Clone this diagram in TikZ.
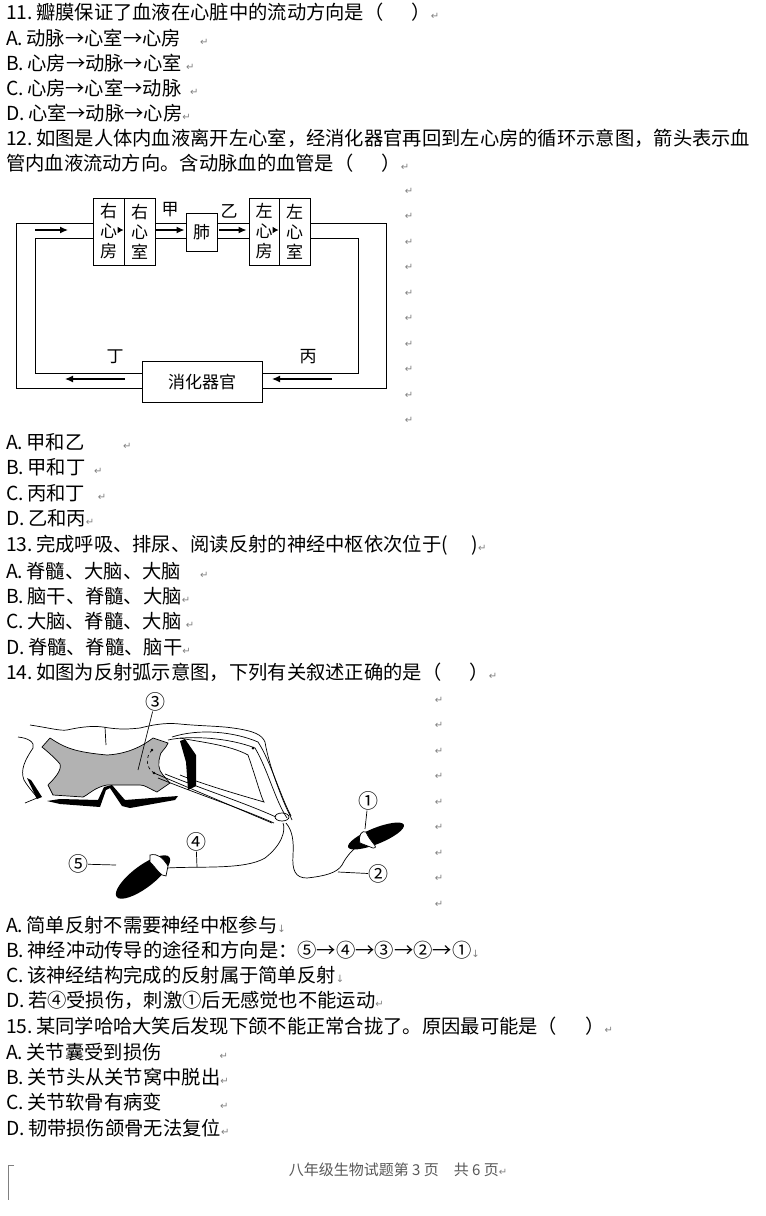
\documentclass[tikz,border=0pt]{standalone}
\usepackage{fontspec}
\setmainfont{Noto Sans CJK SC}
\newfontfamily\djv{DejaVu Sans}
\usetikzlibrary{arrows.meta}
\newcommand{\rt}{{\djv\color{gray}\fontsize{10}{10}\selectfont ↵}}
\newcommand{\rd}{{\djv\color{gray}\fontsize{10}{10}\selectfont ↓}}
\newcommand{\qline}[3]{\node[txt] (#1) at (6,#2) {#3};}
\begin{document}
\begin{tikzpicture}[x=1pt,y=-1pt,
  txt/.style={anchor=west,inner sep=0pt,font=\fontsize{19.3}{20}\selectfont},
  lab/.style={inner sep=0pt,font=\fontsize{17}{18}\selectfont},
  bx/.style={draw,line width=0.9pt},
  ln/.style={line width=0.9pt},
  ar/.style={line width=1.3pt,-{Latex[length=8pt,width=7pt]}},
  blk/.style={fill=black},
  nerve/.style={line width=0.7pt}]
\useasboundingbox (0,0) rectangle (766,1216);
\fill[white] (0,0) rectangle (766,1216);
% ---------- text ----------
\qline{q11}{12}{11.\,瓣膜保证了血液在心脏中的流动方向是（\quad\ \ ）\rt}
\qline{a11}{38}{A.\,动脉→心室→心房\quad\rt}
\qline{b11}{63}{B.\,心房→动脉→心室\ \rt}
\qline{c11}{88}{C.\,心房→心室→动脉\ \ \rt}
\qline{d11}{113}{D.\,心室→动脉→心房\rt}
\qline{q12}{138}{12.\,如图是人体内血液离开左心室，经消化器官再回到左心房的循环示意图，箭头表示血}
\qline{q12b}{163}{管内血液流动方向。含动脉血的血管是（\quad\ \ ）\rt}
\qline{a12}{442}{A.\,甲和乙\qquad\rt}
\qline{b12}{467}{B.\,甲和丁\ \ \rt}
\qline{c12}{493}{C.\,丙和丁\ \ \ \rt}
\qline{d12}{518}{D.\,乙和丙\rt}
\qline{q13}{545}{13.\,完成呼吸、排尿、阅读反射的神经中枢依次位于(\quad\ )\rt}
\qline{a13}{571}{A.\,脊髓、大脑、大脑\quad\rt}
\qline{b13}{596}{B.\,脑干、脊髓、大脑\rt}
\qline{c13}{621}{C.\,大脑、脊髓、大脑\ \rt}
\qline{d13}{647}{D.\,脊髓、脊髓、脑干\rt}
\qline{q14}{672}{14.\,如图为反射弧示意图，下列有关叙述正确的是（\quad\ \ ）\rt}
\qline{a14}{925}{A.\,简单反射不需要神经中枢参与\rd}
\qline{b14}{950}{B.\,神经冲动传导的途径和方向是：⑤→④→③→②→①\rd}
\qline{c14}{975}{C.\,该神经结构完成的反射属于简单反射\rd}
\qline{d14}{1000}{D.\,若④受损伤，刺激①后无感觉也不能运动\rt}
\qline{q15}{1026}{15.\,某同学哈哈大笑后发现下颌不能正常合拢了。原因最可能是（\quad\ \ ）\rt}
\qline{a15}{1052}{A.\,关节囊受到损伤\qquad\quad\rt}
\qline{b15}{1077}{B.\,关节头从关节窝中脱出\rt}
\qline{c15}{1102}{C.\,关节软骨有病变\qquad\quad\rt}
\qline{d15}{1128}{D.\,韧带损伤颌骨无法复位\rt}
\node[lab,text=gray!70!black,font=\fontsize{15}{16}\selectfont] (foot) at (398,1170) {八年级生物试题第 3 页\quad 共 6 页\rt};
\draw[ln,gray] (14,1165) -- (8,1165) -- (8,1200);
% return marks in diagrams
\foreach \i in {0,...,9}{\node[inner sep=0pt] (rh\i) at (409,{191+25.5*\i}) {\rt};}
\foreach \i in {0,...,8}{\node[inner sep=0pt] (rr\i) at (439,{700+25.5*\i}) {\rt};}
% ---------- heart diagram ----------
\tikzset{hb/.style={bx,minimum width=31pt,minimum height=67pt,inner sep=0pt,align=center,font=\fontsize{17}{20}\selectfont}}
\node[hb] (ra) at (108.5,231.5) {右\\心\\房};
\node[hb] (rv) at (139.5,231.5) {右\\心\\室};
\node[bx,minimum width=31pt,minimum height=38pt,inner sep=0pt,lab] (lung) at (201.5,232) {肺};
\node[hb,minimum width=30pt] (la) at (264,231.5) {左\\心\\房};
\node[hb] (lv) at (294.5,231.5) {左\\心\\室};
\node[bx,minimum width=120pt,minimum height=41pt,inner sep=0pt,lab] (dig) at (202,381.5) {消化器官};
\coordinate (o1) at (16,223); \coordinate (o2) at (386,223);
\coordinate (o3) at (386,388); \coordinate (o4) at (16,388);
\coordinate (i1) at (35,238); \coordinate (i2) at (358,238);
\coordinate (i3) at (358,373); \coordinate (i4) at (35,373);
\draw[ln] (ra.west|-o1) -- (o1) -- (o4) -- (dig.west|-o4);
\draw[ln] (ra.west|-i1) -- (i1) -- (i4) -- (dig.west|-i4);
\draw[ln] (lv.east|-o2) -- (o2) -- (o3) -- (dig.east|-o3);
\draw[ln] (lv.east|-i2) -- (i2) -- (i3) -- (dig.east|-i3);
\draw[ln] (rv.east|-o1) -- (lung.west|-o1) (rv.east|-i1) -- (lung.west|-i1);
\draw[ln] (lung.east|-o1) -- (la.west|-o1) (lung.east|-i1) -- (la.west|-i1);
\coordinate (aL1) at (35,230); \coordinate (aL2) at (68,230);
\draw[ar] (aL1) -- (aL2);
\draw[ar] (rv.east|-aL1) -- ([xshift=-1pt]lung.west|-aL1);
\draw[ar] ([xshift=2pt]lung.east|-aL1) -- ([xshift=-2pt]la.west|-aL1);
\coordinate (h1) at (118,230); \coordinate (h2) at (273,230);
\draw[ar,-{Latex[length=6pt,width=7pt]}] (h1) -- (rv.west|-h1);
\draw[ar,-{Latex[length=6pt,width=7pt]}] (h2) -- (lv.west|-h2);
\coordinate (d1) at (125,379); \coordinate (d2) at (65,379);
\coordinate (d3) at (332,379); \coordinate (d4) at (272,379);
\draw[ar] (d1) -- (d2); \draw[ar] (d3) -- (d4);
\node[lab] (jia) at (170,210) {甲};
\node[lab] (yi) at (229,211) {乙};
\node[lab] (ding) at (115,357) {丁};
\node[lab] (bing) at (308,357) {丙};
% ---------- reflex arc ----------
\draw[nerve] (30,725) .. controls (50,728) and (60,731) .. (67,730) .. controls (85,726) and (95,726) .. (103,727) .. controls (120,730) and (130,729) .. (140,728) .. controls (160,723) and (170,723) .. (180,724) .. controls (200,726) and (220,726) .. (233,728) .. controls (255,731) and (262,735) .. (265,742) .. controls (268,760) and (275,780) .. (283,800) .. controls (287,810) and (290,815) .. (292,820);
\draw[nerve] (105,727) -- (106,745);
\draw[nerve] (18,737) .. controls (28,738) and (35,742) .. (33,748) .. controls (25,760) and (20,770) .. (24,780) .. controls (30,790) and (36,795) .. (37,798) -- (25,803);
\draw[nerve,fill=gray!60] (42,747) -- (50,738) .. controls (65,748) and (75,752) .. (107,755) .. controls (125,754) and (140,748) .. (153,738) -- (168,743) .. controls (165,750) and (160,752) .. (160,756) .. controls (158,762) and (158,770) .. (163,775) -- (170,783) -- (157,792) .. controls (148,788) and (145,785) .. (140,785) -- (107,785) .. controls (95,787) and (88,795) .. (83,797) -- (53,795) -- (48,785) .. controls (55,778) and (62,770) .. (60,764) .. controls (55,758) and (48,752) .. (42,747) -- cycle;
\fill[blk] (27,778) -- (31,780) -- (42,797) -- (37,799) -- cycle;
\fill[blk] (47,801) -- (60,804) -- (100,807) -- (106,790) -- (110,788) -- (122,806) -- (130,808) -- (175,800) -- (178,796) -- (125,800) -- (112,785) -- (104,787) -- (98,800) -- (60,799) -- cycle;
\fill[blk] (180,741) -- (185,739) -- (196,755) -- (196,786) -- (188,790) -- (186,762) -- cycle;
\draw[nerve] (168,740) .. controls (190,735) and (230,738) .. (255,748) .. controls (268,770) and (275,800) .. (287,818);
\draw[nerve] (172,737) .. controls (200,728) and (235,732) .. (258,742) .. controls (270,760) and (280,795) .. (291,816);
\draw[nerve] (180,738) .. controls (200,742) and (230,745) .. (248,755) .. controls (255,775) and (262,800) .. (264,802) .. controls (240,795) and (205,785) .. (180,775);
\draw[nerve] (158,778) .. controls (200,795) and (240,808) .. (274,823);
\draw[nerve] (165,774) .. controls (205,790) and (245,803) .. (276,817);
\fill (253,748) circle (1.5pt);
\fill (152,750) circle (1.3pt); \fill (154,773) circle (1.3pt);
\draw[nerve,dashed] (152,750) .. controls (145,757) and (146,768) .. (154,773);
\draw[nerve] (154,773) -- (272,823);
\draw[nerve] (282,817) ellipse (7pt and 4pt);
\draw[nerve] (167,868) .. controls (200,866) and (245,870) .. (265,858) .. controls (282,845) and (286,830) .. (283,823);
\draw[nerve] (286,823) .. controls (292,830) and (294,840) .. (293,855) .. controls (292,870) and (295,878) .. (307,878) .. controls (325,876) and (337,873) .. (342,865) .. controls (347,855) and (355,847) .. (362,843);
\fill[blk,rotate around={22:(376,836)}] (376,836) ellipse (30pt and 8pt);
\draw[nerve,fill=white] (360,843) .. controls (358,835) and (362,830) .. (366,832) .. controls (370,842) and (380,848) .. (373,848) -- cycle;
\fill[blk,rotate around={37:(143,877)}] (143,877) ellipse (33pt and 11pt);
\draw[nerve,fill=white] (150,855) .. controls (158,853) and (163,858) .. (168,866) -- (166,876) .. controls (160,876) and (158,870) .. (150,862) -- cycle;
\tikzset{cl/.style={inner sep=0pt,font=\fontsize{20}{20}\selectfont}}
\node[cl] (c3) at (155,702) {③};
\node[cl] (c1) at (368,801) {①};
\node[cl] (c4) at (196,842) {④};
\node[cl] (c5) at (78,864) {⑤};
\node[cl] (c2) at (378,874) {②};
\coordinate (p3) at (138,770); \coordinate (p1) at (365,829);
\coordinate (p4) at (197,867); \coordinate (p5) at (116,865); \coordinate (p2) at (338,872);
\draw[nerve] (c3) -- (p3); \draw[nerve] (c1) -- (p1); \draw[nerve] (c4) -- (p4);
\draw[nerve] (c5) -- (p5); \draw[nerve] (c2) -- (p2);
\end{tikzpicture}
\end{document}
